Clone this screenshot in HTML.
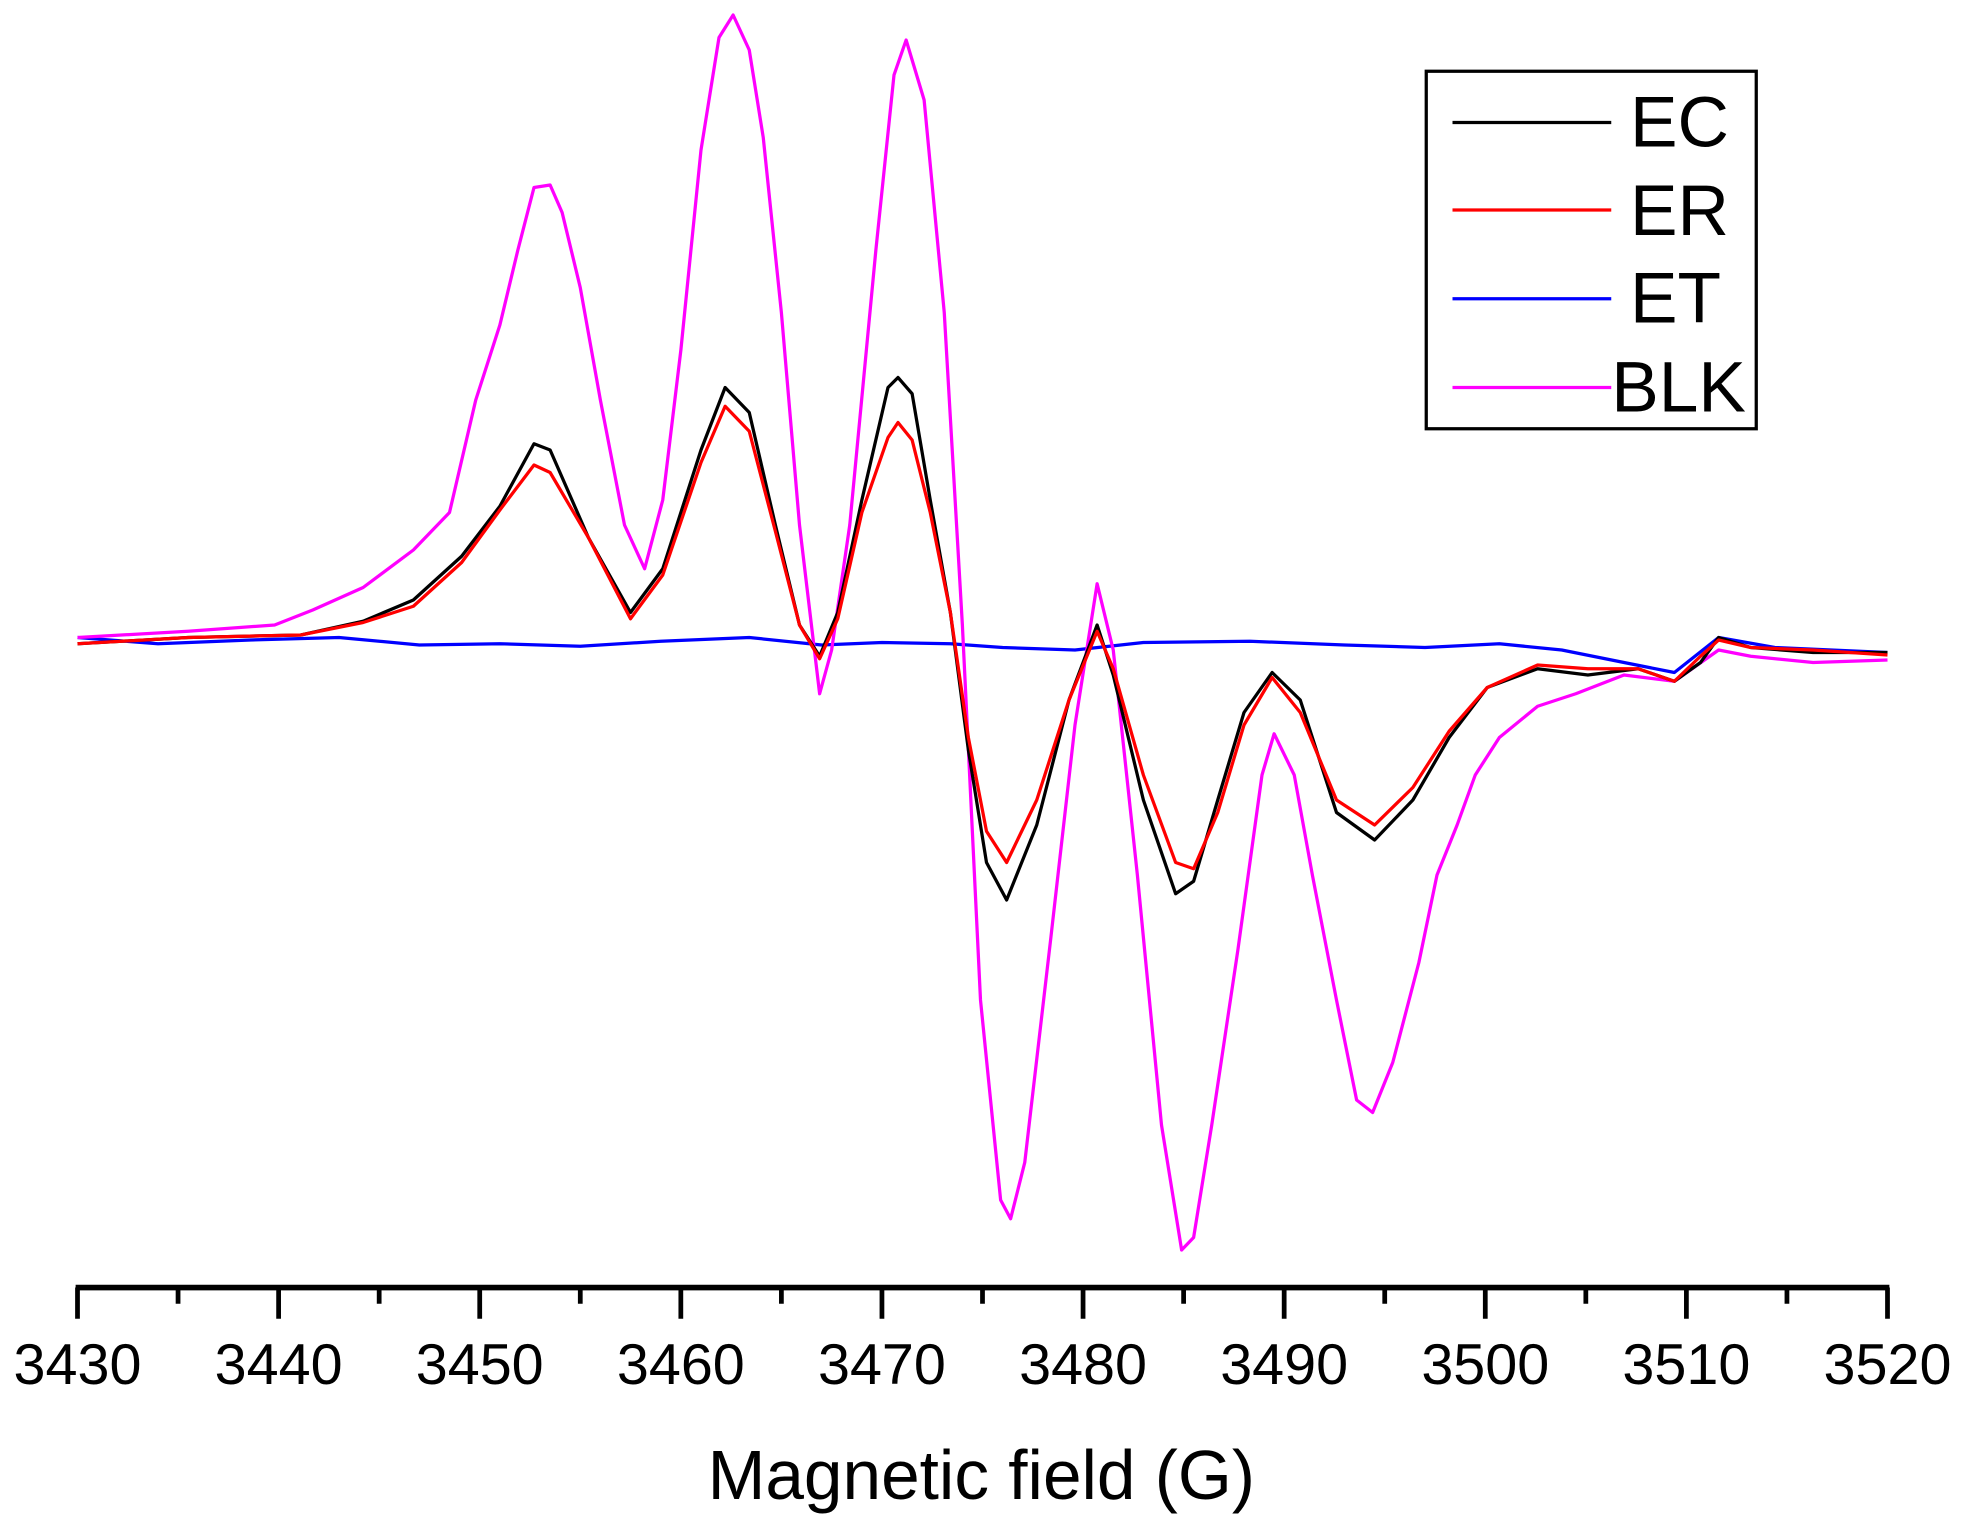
<!DOCTYPE html>
<html><head><meta charset="utf-8"><style>
html,body{margin:0;padding:0;background:#fff;}
svg{display:block;}
text{font-family:"Liberation Sans",Arial,sans-serif;fill:#000;}
</style></head><body>
<svg id="chart" width="1961" height="1522" viewBox="0 0 1568.8 1217.6" preserveAspectRatio="none" xmlns="http://www.w3.org/2000/svg">
<g id="series"></g>
<g id="axis"></g>
<text x="785" y="1199" font-size="55.5" text-anchor="middle">Magnetic field (G)</text>
<g>
<rect x="1141" y="57" width="264" height="286" fill="none" stroke="#000" stroke-width="2.6"/>
<g><line x1="1162" y1="98" x2="1289" y2="98" stroke="#000" stroke-width="2.6"/><text x="1304" y="117" font-size="57">EC</text></g>
<g><line x1="1162" y1="168" x2="1289" y2="168" stroke="#ff0000" stroke-width="2.6"/><text x="1304" y="188" font-size="57">ER</text></g>
<g><line x1="1162" y1="239" x2="1289" y2="239" stroke="#0000ff" stroke-width="2.6"/><text x="1304" y="258" font-size="57">ET</text></g>
<g><line x1="1162" y1="310" x2="1289" y2="310" stroke="#ff00ff" stroke-width="2.6"/><text x="1289" y="329" font-size="57">BLK</text></g>
</g>
</svg>
<script>
const fieldsE = [3430,3435.5,3441.1,3444.2,3446.7,3449.1,3451.0,3452.7,3453.5,3455.4,3457.5,3459.1,3461.0,3462.2,3463.4,3464.7,3465.9,3466.9,3467.8,3469.0,3470.3,3470.8,3471.5,3472.4,3473.4,3474.3,3475.2,3476.2,3477.7,3479.3,3480.7,3481.5,3483.0,3484.6,3485.5,3486.7,3488.0,3489.4,3490.8,3492.6,3494.5,3496.4,3498.2,3500.1,3502.6,3505.1,3507.6,3509.4,3510.7,3511.6,3513.2,3516.3,3520];
const valuesEC = [-3,2,4,15,32,67,107,157,152,82,22,57,152,202,182,92,12,-13,22,112,202,210,197,112,22,-88,-178,-208,-148,-48,12,-28,-128,-203,-193,-128,-58,-26,-48,-138,-160,-128,-78,-38,-23,-28,-23,-33,-18,2,-6,-10,-10];
const valuesER = [-3,2,4,14,27,62,104,140,134,82,17,52,142,187,167,87,12,-15,17,102,162,174,160,102,22,-78,-153,-178,-128,-48,7,-23,-108,-178,-183,-138,-68,-30,-58,-128,-148,-118,-73,-38,-20,-23,-23,-33,-13,0,-6,-8,-12];
const fieldsBLK = [3430,3435.5,3439.8,3441.7,3444.2,3446.7,3448.5,3449.8,3451.0,3451.9,3452.7,3453.5,3454.1,3455.0,3456.0,3457.2,3458.2,3459.1,3460.0,3461.0,3461.9,3462.6,3463.4,3464.1,3465.0,3465.9,3466.9,3467.5,3468.4,3469.7,3470.6,3471.2,3472.1,3473.1,3474.0,3474.9,3475.9,3476.4,3477.1,3478.4,3479.6,3480.7,3481.5,3482.7,3483.9,3484.9,3485.5,3486.4,3487.7,3488.9,3489.5,3490.5,3491.4,3492.6,3493.6,3494.4,3495.4,3496.7,3497.6,3498.6,3499.5,3500.7,3502.6,3504.5,3506.9,3509.4,3511.6,3513.2,3516.3,3520];
const valuesBLK = [2,7,12,24,42,72,102,192,252,312,362,364,342,282,192,92,57,112,232,392,482,500,472,402,262,92,-43,-8,92,312,452,480,432,262,12,-288,-448,-463,-418,-238,-68,45,-8,-188,-388,-488,-478,-388,-248,-108,-75,-108,-188,-288,-368,-378,-338,-258,-188,-148,-108,-78,-53,-43,-28,-33,-8,-13,-18,-16];
const fieldsET = [3430,3434,3438.6,3443,3447,3451,3455,3459,3463.4,3467,3470,3473.4,3476,3479.6,3483,3488.3,3493,3497,3500.7,3503.8,3506.9,3509.4,3511.6,3514.4,3520];
const valuesET = [2,-3,0,2,-4,-3,-5,-1,2,-4,-2,-3,-6,-8,-2,-1,-4,-6,-3,-8,-18,-26,2,-6,-10];
const tickValues = [3430,3440,3450,3460,3470,3480,3490,3500,3510,3520];
const tickLabels = ["3430","3440","3450","3460","3470","3480","3490","3500","3510","3520"];

const NS = "http://www.w3.org/2000/svg";
const X0 = 62, X1 = 1510, FMIN = 3430, FMAX = 3520, AXIS_Y = 1030;
function xScale(f){ return X0 + (f - FMIN) / (FMAX - FMIN) * (X1 - X0); }
function yScale(v){ return 512 - v; }

const seriesG = document.getElementById('series');
function drawLine(fields, vals, color, name){
  const p = document.createElementNS(NS, 'polyline');
  p.setAttribute('points', fields.map((f,i)=> xScale(f).toFixed(1)+','+yScale(vals[i]).toFixed(1)).join(' '));
  p.setAttribute('fill','none');
  p.setAttribute('stroke', color);
  p.setAttribute('stroke-width','2.6');
  p.setAttribute('stroke-linejoin','round');
  
  
  seriesG.appendChild(p);
}
drawLine(fieldsET, valuesET, '#0000ff', 'series-et');
drawLine(fieldsBLK, valuesBLK, '#ff00ff', 'series-blk');
drawLine(fieldsE, valuesEC, '#000000', 'series-ec');
drawLine(fieldsE, valuesER, '#ff0000', 'series-er');

const axisG = document.getElementById('axis');
const al = document.createElementNS(NS,'line');
al.setAttribute('x1', xScale(FMIN) - 1.5); al.setAttribute('x2', xScale(FMAX) + 1.5);
al.setAttribute('y1', AXIS_Y); al.setAttribute('y2', AXIS_Y);
al.setAttribute('stroke','#000'); al.setAttribute('stroke-width','4.5');


axisG.appendChild(al);
for (let f = FMIN; f <= FMAX; f += 5){
  const major = (f % 10 === 0);
  const t = document.createElementNS(NS,'line');
  t.setAttribute('x1', xScale(f)); t.setAttribute('x2', xScale(f));
  t.setAttribute('y1', AXIS_Y); t.setAttribute('y2', AXIS_Y + (major ? 25 : 13));
  t.setAttribute('stroke','#000'); t.setAttribute('stroke-width','3.8');
  
  
  axisG.appendChild(t);
}
tickValues.forEach((f,i)=>{
  const tx = document.createElementNS(NS,'text');
  tx.setAttribute('x', xScale(f)); tx.setAttribute('y', 1107);
  tx.setAttribute('font-size','46'); tx.setAttribute('text-anchor','middle');
  tx.textContent = tickLabels[i];
  
  
  axisG.appendChild(tx);
});
</script>
</body></html>
